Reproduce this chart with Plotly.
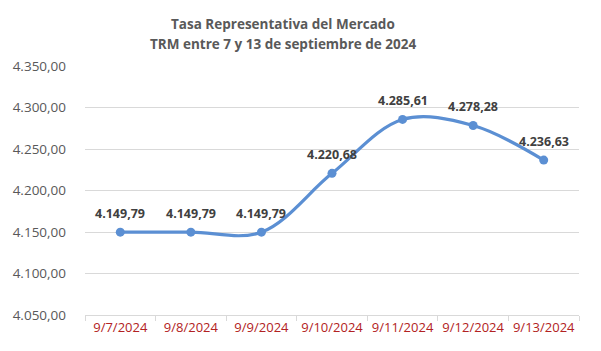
import plotly.graph_objects as go

dates = ["9/7/2024", "9/8/2024", "9/9/2024", "9/10/2024", "9/11/2024", "9/12/2024", "9/13/2024"]
trm = [4149.79, 4149.79, 4149.79, 4220.68, 4285.61, 4278.28, 4236.63]
y_ticks = [4050, 4100, 4150, 4200, 4250, 4300, 4350]
title_lines = ["Tasa Representativa del Mercado", "TRM entre 7 y 13 de septiembre de 2024"]

W, H = 601, 351
ML, MR, MT, MB = 85, 22, 66, 36
PLOT_W = W - ML - MR
PLOT_H = H - MT - MB
LINE = "#5B8FD3"


def es_num(v):
    return f"{v:,.2f}".replace(",", "X").replace(".", ",").replace("X", ".")


fig = go.Figure()
fig.add_trace(go.Scatter(
    x=dates, y=trm, mode="lines+markers",
    line=dict(color=LINE, width=3.2, shape="spline", smoothing=1.0),
    marker=dict(size=9, color=LINE),
    cliponaxis=False, hoverinfo="skip",
))

for d, v in zip(dates, trm):
    fig.add_annotation(
        x=d, y=v, xref="x", yref="y", text="<b>" + es_num(v) + "</b>",
        showarrow=False, yshift=19, yanchor="middle",
        font=dict(family="Open Sans, sans-serif", size=12.5, color="#404040"),
    )

for i, t in enumerate(title_lines):
    ypix = 24 + 20 * i  # from top of page
    fig.add_annotation(
        x=(283 - ML) / PLOT_W, xref="paper", y=(H - MB - ypix) / PLOT_H, yref="paper",
        xanchor="center", yanchor="middle", showarrow=False,
        text="<b>" + t + "</b>",
        font=dict(family="Open Sans, sans-serif", size=13.5, color="#595959"),
    )

fig.update_layout(
    width=W, height=H,
    margin=dict(l=ML, r=MR, t=MT, b=MB),
    paper_bgcolor="white", plot_bgcolor="white",
    separators=",.",
    showlegend=False,
    font=dict(family="Open Sans, sans-serif"),
)

fig.update_xaxes(
    type="category", tickson="boundaries", ticks="outside", ticklen=5, tickcolor="#D9D9D9",
    showline=True, linecolor="#D9D9D9", linewidth=1, showgrid=False,
    tickfont=dict(size=13, color="#B22222"), tickangle=0, automargin=False,
    range=[-0.5, 6.5],
)
fig.update_yaxes(
    range=[4050, 4350], tickvals=y_ticks, tickformat=",.2f",
    showgrid=True, gridcolor="#D9D9D9", gridwidth=1, zeroline=False, showline=False,
    tickfont=dict(size=13.5, color="#595959"), ticks="", ticklabelstandoff=18, automargin=False,
)

fig.write_html("out.html")
